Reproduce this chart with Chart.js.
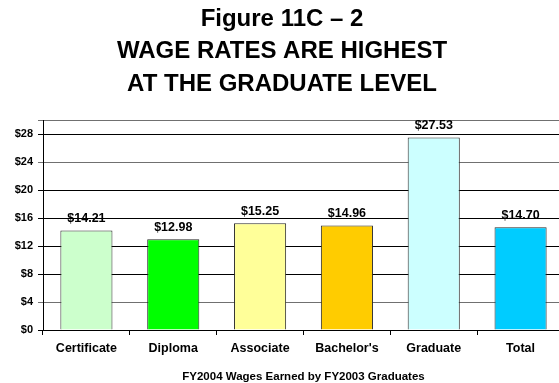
<!DOCTYPE html>
<html>
<head>
<meta charset="utf-8">
<script src="https://cdn.jsdelivr.net/npm/chart.js@4/dist/chart.umd.min.js"></script>
<style>
  html, body { margin: 0; padding: 0; background: #fff; overflow: hidden; }
  #wrap { position: relative; width: 566px; height: 383px; }
</style>
</head>
<body>
<div id="wrap"><canvas id="c" width="566" height="383"></canvas></div>
<script>
// Average hourly wages by award level
const categories = ["Certificate", "Diploma", "Associate", "Bachelor's", "Graduate", "Total"];
const wages = [14.21, 12.98, 15.25, 14.96, 27.53, 14.70];
const barColors = ["#CCFFCC", "#00FF00", "#FFFF99", "#FFCC00", "#CCFFFF", "#00CCFF"];
const yTicks = [0, 4, 8, 12, 16, 20, 24, 28];
const titleLines = ["Figure 11C \u2013 2", "WAGE RATES ARE HIGHEST", "AT THE GRADUATE LEVEL"];
const xAxisTitle = "FY2004 Wages Earned by FY2003 Graduates";

const FONT = "'Liberation Sans', Arial, Helvetica, sans-serif";

// Dollar labels above each bar
const valueLabels = {
  id: 'valueLabels',
  afterDatasetsDraw(chart) {
    const ctx = chart.ctx;
    const meta = chart.getDatasetMeta(0);
    ctx.save();
    ctx.font = "bold 12.5px " + FONT;
    ctx.fillStyle = "#000";
    ctx.textAlign = "center";
    ctx.textBaseline = "middle";
    meta.data.forEach((bar, i) => {
      ctx.fillText("$" + wages[i].toFixed(2), bar.x, bar.y - 12);
    });
    ctx.restore();
  }
};

new Chart(document.getElementById('c'), {
  type: 'bar',
  data: {
    labels: categories,
    datasets: [{
      data: wages,
      backgroundColor: barColors,
      borderColor: "#2a2a2a",
      borderWidth: 1,
      barPercentage: 0.6,
      categoryPercentage: 1.0
    }]
  },
  options: {
    responsive: false,
    animation: false,
    devicePixelRatio: 1,
    layout: { padding: { left: 0, right: 2, top: 0, bottom: 0 } },
    plugins: {
      legend: { display: false },
      tooltip: { enabled: false },
      title: {
        display: true,
        text: titleLines,
        color: "#000",
        font: { family: FONT, size: 24, weight: 'bold', lineHeight: 1.35 },
        padding: { top: 3, bottom: 20 }
      }
    },
    scales: {
      x: {
        offset: true,
        grid: {
          offset: true,
          drawOnChartArea: false,
          drawTicks: true,
          tickLength: 5,
          color: "#000"
        },
        border: { display: true, color: "#000", width: 1 },
        ticks: {
          color: "#000",
          padding: 6,
          maxRotation: 0,
          font: { family: FONT, size: 12.5, weight: 'bold' }
        },
        title: {
          display: true,
          text: xAxisTitle,
          color: "#000",
          font: { family: FONT, size: 11.5, weight: 'bold', lineHeight: 1 },
          padding: { top: 0, bottom: 0 }
        },
        afterFit(scale) { scale.height = 53; }
      },
      y: {
        min: 0,
        max: 30,
        afterBuildTicks(scale) {
          scale.ticks = yTicks.concat([30]).map(v => ({ value: v }));
        },
        grid: {
          color: ctx => {
            const v = ctx.tick ? ctx.tick.value : 0;
            return (v === 4 || v === 24 || v === 30) ? "#707070" : "#000";
          },
          lineWidth: 1,
          tickLength: 5,
          drawTicks: true
        },
        border: { display: true, color: "#000", width: 1 },
        ticks: {
          color: "#000",
          padding: 5,
          font: { family: FONT, size: 11, weight: 'bold' },
          callback: v => (yTicks.includes(v) ? "$" + v : "")
        },
        afterFit(scale) { scale.width = 43; }
      }
    }
  },
  plugins: [valueLabels]
});
</script>
</body>
</html>
